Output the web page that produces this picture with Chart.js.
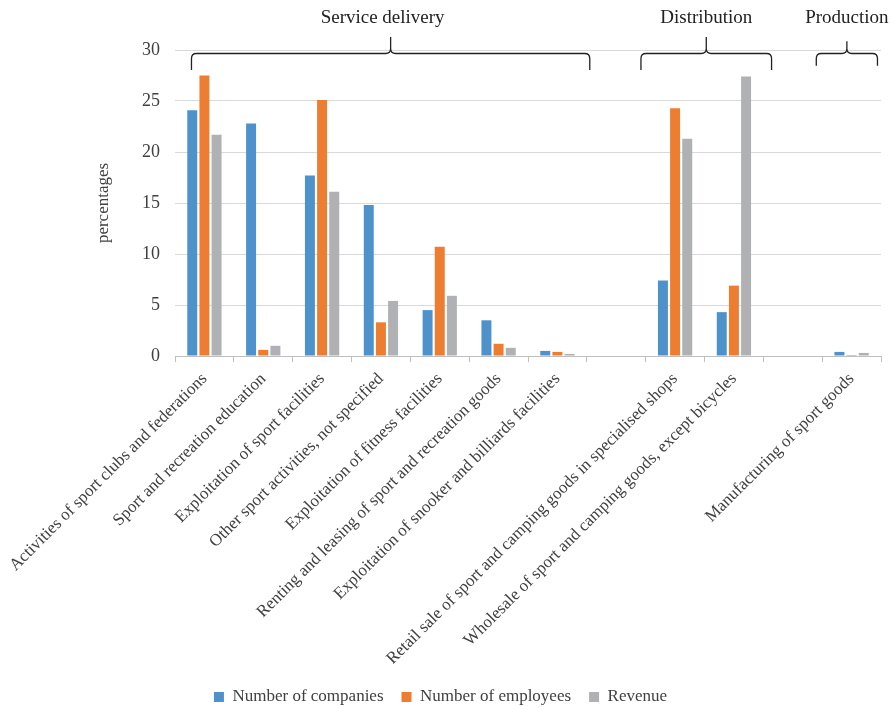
<!DOCTYPE html>
<html>
<head>
<meta charset="utf-8">
<script src="https://cdn.jsdelivr.net/npm/chart.js@4"></script>
<style>
  html, body { margin: 0; padding: 0; background: #fff; }
  #wrap { width: 896px; height: 709px; position: relative; }
</style>
</head>
<body>
<div id="wrap"><canvas id="sportChart"></canvas></div>
<script>
// categories ('' = empty slot between groups)
const categories = [
    'Activities of sport clubs and federations',
    'Sport and recreation education',
    'Exploitation of sport facilities',
    'Other sport activities, not specified',
    'Exploitation of fitness facilities',
    'Renting and leasing of sport and recreation goods',
    'Exploitation of snooker and billiards facilities',
    '',
    'Retail sale of sport and camping goods in specialised shops',
    'Wholesale of sport and camping goods, except bicycles',
    '',
    'Manufacturing of sport goods'
];

const companies = [24.1, 22.8, 17.7, 14.8, 4.5, 3.5, 0.5, null, 7.4, 4.3, null, 0.4];
const employees = [27.5, 0.6, 25.1, 3.3, 10.7, 1.2, 0.4, null, 24.3, 6.9, null, 0.1];
const revenue = [21.7, 1.0, 16.1, 5.4, 5.9, 0.8, 0.2, null, 21.3, 27.4, null, 0.3];

const seriesNames = ['Number of companies', 'Number of employees', 'Revenue'];
const yTicks = [0, 5, 10, 15, 20, 25, 30];

// brace groups above the bars, span given in category index units
const groupNames = ['Service delivery', 'Distribution', 'Production'];
const groupFrom = [-0.22, 7.42, 10.4];
const groupTo = [6.55, 9.64, 11.44];

const FONT = "'Liberation Serif', 'Times New Roman', serif";
const TEXT = '#404040';

// curly braces + group titles
const bracePlugin = {
    id: 'braces',
    afterDraw(chart) {
        const ctx = chart.ctx;
        const xs = chart.scales.x;
        const x0 = xs.getPixelForValue(0);
        const step = xs.getPixelForValue(1) - x0;
        const top = chart.chartArea.top;
        const yLine = top + 3.5;

        ctx.save();
        ctx.strokeStyle = '#222';
        ctx.lineWidth = 1.3;
        groupNames.forEach((name, i) => {
            const a = x0 + groupFrom[i] * step;
            const b = x0 + groupTo[i] * step;
            const m = (a + b) / 2;
            const depth = Math.min(16.5, (b - a) * 0.2);
            const r = 5;

            ctx.beginPath();
            ctx.moveTo(a, yLine + depth);
            ctx.lineTo(a, yLine + r);
            ctx.quadraticCurveTo(a, yLine, a + r, yLine);
            ctx.lineTo(m - r, yLine);
            ctx.quadraticCurveTo(m, yLine, m, yLine - r);
            ctx.lineTo(m, yLine - depth);
            ctx.moveTo(b, yLine + depth);
            ctx.lineTo(b, yLine + r);
            ctx.quadraticCurveTo(b, yLine, b - r, yLine);
            ctx.lineTo(m + r, yLine);
            ctx.quadraticCurveTo(m, yLine, m, yLine - r);
            ctx.stroke();

            // the wide group's title sits a little left of its brace tip
            const shift = i === 0 ? -8 : 0;
            ctx.fillStyle = '#222';
            ctx.font = '19px ' + FONT;
            ctx.textAlign = 'center';
            ctx.textBaseline = 'middle';
            ctx.fillText(name, m + shift, top - 32);
        });
        ctx.restore();
    }
};

// move legend row down to the bottom edge
const legendShift = {
    id: 'legendShift',
    afterLayout(chart) {
        const lg = chart.legend;
        const dy = chart.height - 12 - (lg.top + lg.options.labels.padding + 8.5);
        lg.top += dy;
        lg.bottom += dy;
    }
};

const ctx = document.getElementById('sportChart').getContext('2d');

new Chart(ctx, {
    type: 'bar',
    data: {
        labels: categories,
        datasets: [
            { label: seriesNames[0], data: companies, backgroundColor: '#4E92CC' },
            { label: seriesNames[1], data: employees, backgroundColor: '#ED7D31' },
            { label: seriesNames[2], data: revenue, backgroundColor: '#B0B1B4' }
        ]
    },
    options: {
        responsive: true,
        maintainAspectRatio: false,
        animation: false,
        devicePixelRatio: 1,
        layout: { padding: { top: 50, right: 15, left: 0, bottom: 0 } },
        datasets: {
            bar: { categoryPercentage: 0.62, barPercentage: 0.82 }
        },
        scales: {
            x: {
                grid: {
                    drawOnChartArea: false,
                    drawTicks: true,
                    tickLength: 6,
                    color: '#BFBFBF',
                    offset: true
                },
                border: { color: '#BFBFBF' },
                ticks: {
                    autoSkip: false,
                    minRotation: 45,
                    maxRotation: 45,
                    padding: 7,
                    color: TEXT,
                    font: { family: FONT, size: 17 }
                },
                afterFit(scale) {
                    scale.paddingLeft = 0;
                    scale.paddingRight = 0;
                    scale.height = scale.chart.height - 356 - scale.chart.legend.height;
                }
            },
            y: {
                min: 0,
                max: 30,
                afterBuildTicks(scale) {
                    scale.ticks = yTicks.map(v => ({ value: v }));
                },
                grid: { color: '#D9D9D9', drawTicks: false },
                border: { display: false },
                ticks: {
                    padding: 15,
                    color: TEXT,
                    font: { family: FONT, size: 18 }
                },
                title: {
                    display: true,
                    text: 'percentages',
                    color: TEXT,
                    font: { family: FONT, size: 17 },
                    padding: { top: 93, bottom: 0 }
                },
                afterFit(scale) {
                    scale.width = 175;
                }
            }
        },
        plugins: {
            legend: {
                position: 'bottom',
                labels: {
                    boxWidth: 10,
                    boxHeight: 10,
                    padding: 18,
                    color: TEXT,
                    font: { family: FONT, size: 17 }
                }
            },
            tooltip: { enabled: false }
        }
    },
    plugins: [bracePlugin, legendShift]
});
</script>
</body>
</html>
